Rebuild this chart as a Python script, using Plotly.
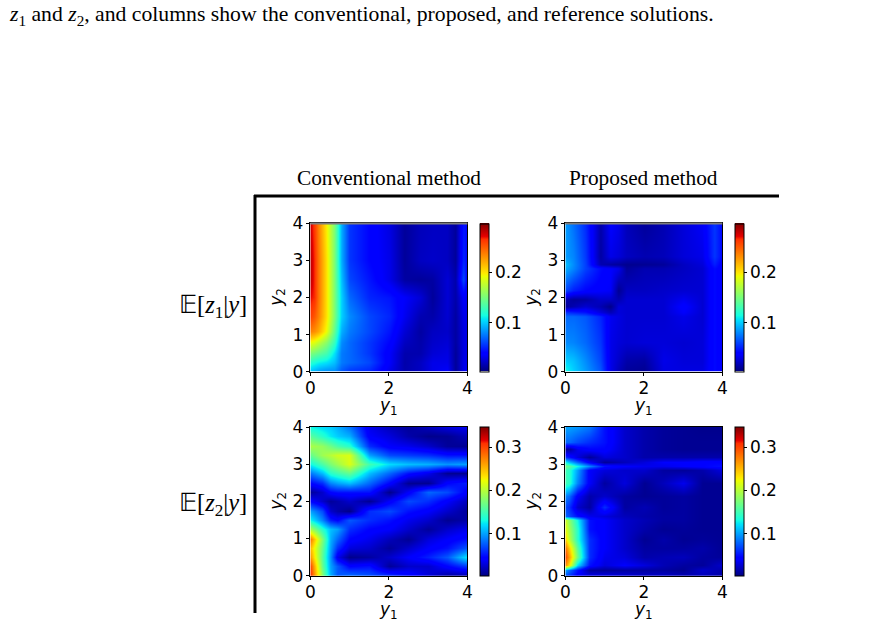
import plotly.graph_objects as go

W, H = 889, 625

# Horizontal and vertical nodes of each field, plus the values on them (rows run from y2 = 0 upward)
x_z1_conv = [0, .1, .2, .4, .6, .8, 1, 1.5, 2, 2.4, 2.8, 3.1, 3.5, 3.7, 3.9, 4]
y_z1_conv = [0, .25, .5, .8, 1.1, 1.5, 2, 2.5, 3, 4]
z1_conv = [
    [.095, .090, .085, .080, .080, .065, .055, .050, .030, .015, .020, .030, .035, .010, .030, .035],
    [.120, .115, .110, .105, .095, .075, .070, .060, .035, .014, .020, .030, .030, .010, .030, .030],
    [.150, .145, .140, .130, .105, .075, .070, .055, .035, .015, .015, .025, .028, .010, .028, .030],
    [.190, .185, .175, .155, .125, .080, .070, .055, .040, .020, .014, .022, .025, .012, .028, .030],
    [.235, .230, .220, .190, .140, .090, .075, .060, .045, .025, .012, .020, .022, .012, .028, .030],
    [.260, .250, .235, .200, .150, .100, .080, .060, .050, .032, .016, .014, .024, .012, .030, .030],
    [.270, .265, .240, .200, .150, .100, .070, .050, .045, .035, .025, .010, .025, .014, .035, .030],
    [.280, .265, .240, .200, .150, .095, .060, .045, .030, .012, .010, .012, .025, .014, .060, .035],
    [.280, .265, .240, .200, .150, .090, .055, .040, .030, .010, .020, .022, .020, .010, .050, .040],
    [.275, .260, .235, .195, .150, .090, .055, .040, .028, .010, .018, .020, .020, .010, .045, .040],
]

x_z1_prop = [0, .2, .5, .9, 1.15, 1.35, 1.55, 2, 2.5, 3, 3.5, 3.8, 4]
y_z1_prop = [0, .3, .8, 1.5, 1.6, 1.75, 1.95, 2.2, 2.8, 2.9, 3.1, 4]
z1_prop = [
    [.115, .100, .085, .065, .030, .018, .010, .008, .028, .028, .028, .042, .035],
    [.100, .095, .080, .060, .030, .022, .014, .012, .030, .026, .026, .042, .035],
    [.080, .078, .070, .055, .030, .026, .024, .026, .026, .024, .026, .042, .035],
    [.070, .070, .065, .050, .032, .028, .024, .024, .024, .030, .024, .042, .035],
    [.055, .050, .045, .028, .018, .026, .024, .024, .024, .035, .024, .042, .035],
    [.010, .016, .024, .016, .006, .026, .024, .024, .024, .038, .024, .042, .035],
    [.016, .010, .012, .022, .022, .016, .024, .024, .024, .032, .024, .042, .035],
    [.060, .048, .040, .036, .034, .008, .020, .020, .022, .024, .024, .042, .035],
    [.090, .078, .058, .042, .036, .030, .010, .016, .016, .020, .024, .042, .035],
    [.095, .080, .058, .016, .012, .010, .007, .008, .010, .020, .026, .048, .035],
    [.085, .078, .056, .012, .030, .026, .020, .016, .018, .026, .030, .055, .040],
    [.085, .072, .052, .014, .036, .030, .018, .010, .016, .026, .034, .055, .040],
]

x_z2_conv = [0, .3, .5, .7, 1, 1.5, 2, 2.5, 3, 3.5, 4]
y_z2_conv = [0, .25, .5, .75, 1, 1.25, 1.5, 1.75, 2, 2.25, 2.5, 2.75, 3, 3.25, 3.5, 3.75, 4]
z2_conv = [
    [.310, .180, .105, .075, .085, .075, .065, .050, .030, .010, .012],
    [.300, .165, .100, .075, .045, .050, .010, .025, .025, .045, .065],
    [.265, .160, .095, .035, .006, .012, .025, .040, .055, .075, .125],
    [.250, .165, .100, .060, .030, .025, .010, .025, .040, .050, .075],
    [.280, .175, .105, .080, .045, .035, .020, .008, .030, .040, .050],
    [.195, .140, .110, .100, .060, .045, .040, .025, .010, .025, .035],
    [.130, .090, .055, .045, .075, .060, .050, .035, .025, .008, .015],
    [.100, .070, .025, .015, .005, .060, .070, .050, .040, .025, .010],
    [.045, .025, .010, .015, .025, .008, .040, .070, .060, .040, .020],
    [.010, .025, .045, .050, .050, .050, .006, .040, .080, .070, .040],
    [.045, .060, .090, .100, .110, .080, .045, .008, .008, .045, .055],
    [.085, .110, .140, .150, .165, .110, .080, .050, .035, .008, .008],
    [.130, .155, .175, .190, .215, .150, .120, .110, .105, .095, .100],
    [.165, .190, .200, .210, .215, .100, .070, .065, .060, .050, .050],
    [.195, .185, .170, .155, .140, .060, .040, .035, .025, .010, .008],
    [.160, .140, .125, .115, .105, .040, .030, .015, .006, .008, .020],
    [.130, .120, .115, .105, .085, .035, .020, .010, .020, .030, .035],
]

x_z2_prop = [0, .1, .3, .6, 1, 1.5, 2, 2.5, 3, 3.5, 4]
y_z2_prop = [0, .15, .3, .5, .75, 1, 1.25, 1.5, 1.6, 1.85, 2.15, 2.5, 2.85, 2.95, 3.05, 3.2, 3.4, 3.6, 4]
z2_prop = [
    [.070, .060, .040, .035, .035, .030, .025, .025, .020, .020, .015],
    [.100, .080, .050, .012, .010, .012, .012, .012, .008, .025, .015],
    [.270, .230, .120, .050, .030, .040, .030, .018, .012, .010, .025],
    [.300, .260, .170, .060, .035, .030, .015, .018, .020, .012, .010],
    [.280, .240, .160, .060, .040, .025, .012, .012, .012, .015, .008],
    [.240, .200, .140, .060, .040, .025, .008, .015, .008, .010, .008],
    [.220, .190, .140, .050, .040, .025, .015, .008, .010, .008, .008],
    [.210, .180, .130, .050, .040, .025, .018, .012, .012, .008, .008],
    [.080, .070, .050, .035, .030, .020, .015, .012, .012, .008, .008],
    [.070, .060, .025, .012, .060, .012, .018, .010, .012, .008, .008],
    [.090, .080, .040, .015, .025, .012, .008, .010, .012, .008, .008],
    [.150, .140, .090, .040, .012, .030, .008, .020, .035, .008, .008],
    [.150, .140, .100, .040, .030, .025, .025, .012, .010, .015, .030],
    [.170, .160, .130, .090, .050, .040, .035, .035, .040, .045, .050],
    [.130, .110, .080, .040, .010, .020, .030, .040, .040, .045, .045],
    [.060, .050, .030, .010, .030, .025, .015, .015, .015, .015, .015],
    [.010, .012, .035, .045, .045, .025, .015, .010, .008, .008, .008],
    [.080, .080, .070, .060, .050, .025, .015, .010, .008, .008, .008],
    [.100, .100, .095, .085, .050, .025, .015, .010, .008, .006, .006],
]

row1_limits = [0.003, 0.297]
row2_limits = [0.002, 0.3475]
row1_ticks = [0.1, 0.2]
row2_ticks = [0.1, 0.2, 0.3]
axis_ticks = [0, 1, 2, 3, 4]
x_axis_ticks = [0, 2, 4]

column_titles = ["Conventional method", "Proposed method"]
row_titles = ["𝔼[<i>z</i><sub>1</sub>|<i>y</i>]", "𝔼[<i>z</i><sub>2</sub>|<i>y</i>]"]
x_title = "<i>y</i><sub>1</sub>"
y_title = "<i>y</i><sub>2</sub>"
caption = ("<i>z</i><sub>1</sub> and <i>z</i><sub>2</sub>, and columns show the "
           "conventional, proposed, and reference solutions.")

# The usual jet ramp, written out stop by stop
jet = [
    [0.0, "rgb(0,0,127)"], [0.11, "rgb(0,0,255)"], [0.125, "rgb(0,0,255)"],
    [0.34, "rgb(0,219,255)"], [0.35, "rgb(0,229,247)"], [0.375, "rgb(20,255,226)"],
    [0.64, "rgb(237,255,0)"], [0.66, "rgb(255,234,0)"], [0.89, "rgb(255,48,0)"],
    [0.91, "rgb(229,0,0)"], [1.0, "rgb(127,0,0)"],
]

TICK_FONT = dict(family="DejaVu Sans", size=17, color="black")


def px_x(v):
    return v / W


def px_y(v):
    return 1 - v / H


# Pixel boxes of the panels and their colour bars
panels = [
    ("x", "y", x_z1_conv, y_z1_conv, z1_conv, row1_limits, row1_ticks, (310.3, 467.4), (223.3, 371.7), 480.3),
    ("x2", "y2", x_z1_prop, y_z1_prop, z1_prop, row1_limits, row1_ticks, (565.3, 722.3), (223.3, 371.7), 735.0),
    ("x3", "y3", x_z2_conv, y_z2_conv, z2_conv, row2_limits, row2_ticks, (310.3, 467.4), (427.0, 575.7), 480.3),
    ("x4", "y4", x_z2_prop, y_z2_prop, z2_prop, row2_limits, row2_ticks, (565.3, 722.3), (427.0, 575.7), 735.0),
]

fig = go.Figure()
layout = dict(
    width=W, height=H, margin=dict(l=0, r=0, t=0, b=0, autoexpand=False),
    paper_bgcolor="white", plot_bgcolor="white", showlegend=False,
)

for xa, ya, xs, ys, zs, lim, cticks, bx, by, cb_left in panels:
    fig.add_trace(go.Heatmap(
        x=xs, y=ys, z=zs, xaxis=xa, yaxis=ya, zsmooth="best",
        zmin=lim[0], zmax=lim[1], colorscale=jet, hoverinfo="skip",
        colorbar=dict(
            x=px_x(cb_left), xanchor="left", xpad=0, ypad=0,
            y=px_y((by[0] + by[1]) / 2), yanchor="middle",
            lenmode="fraction", len=(by[1] - by[0]) / H,
            thicknessmode="pixels", thickness=8.5,
            outlinewidth=1, outlinecolor="black",
            tickmode="array", tickvals=cticks, ticktext=[f"{t:.1f}" for t in cticks],
            ticks="outside", ticklen=2.5, tickwidth=1, tickcolor="black",
            tickfont=TICK_FONT,
        ),
    ))
    xkey = "xaxis" + xa[1:]
    ykey = "yaxis" + ya[1:]
    layout[xkey] = dict(
        domain=[px_x(bx[0]), px_x(bx[1])], anchor=ya, range=[0, 4],
        tickmode="array", tickvals=x_axis_ticks, ticks="outside", ticklen=3.5,
        tickwidth=1, tickcolor="black", tickfont=TICK_FONT, showgrid=False,
        zeroline=False, showline=True, linecolor="black", linewidth=1, mirror=True,
        ticklabelstandoff=-3,
    )
    layout[ykey] = dict(
        domain=[px_y(by[1]), px_y(by[0])], anchor=xa, range=[0, 4],
        tickmode="array", tickvals=axis_ticks, ticks="outside", ticklen=3.5,
        tickwidth=1, tickcolor="black", tickfont=TICK_FONT, showgrid=False,
        zeroline=False, showline=True, linecolor="black", linewidth=1, mirror=True,
        ticklabelstandoff=-1,
    )

fig.update_layout(**layout)

# Table rules around the panels
rule = dict(color="black", width=3)
fig.add_shape(type="line", xref="paper", yref="paper",
              x0=px_x(254), x1=px_x(779), y0=px_y(196), y1=px_y(196), line=rule)
fig.add_shape(type="line", xref="paper", yref="paper",
              x0=px_x(255), x1=px_x(255), y0=px_y(195), y1=px_y(613), line=rule)

# The upper edge of the top row reads as a softer grey
for bx in (panels[0][7], panels[1][7]):
    fig.add_shape(type="line", xref="paper", yref="paper",
                  x0=px_x(bx[0]), x1=px_x(bx[1]), y0=px_y(223.5), y1=px_y(223.5),
                  line=dict(color="rgb(125,125,125)", width=2))


def label(text, cx, cy, size, family="Liberation Serif", anchor="center", angle=0):
    fig.add_annotation(
        text=text, xref="paper", yref="paper", x=px_x(cx), y=px_y(cy),
        xanchor=anchor, yanchor="middle", showarrow=False, textangle=angle,
        font=dict(family=family, size=size, color="black"),
    )


label(column_titles[0], 389, 178, 21.3)
label(column_titles[1], 643, 178, 21.3)
label(row_titles[0], 213, 306, 24.5)
label(row_titles[1], 213, 504, 24.5)
label(caption, 7, 15, 21.7, anchor="left")

# Axis titles, placed from each panel's own box
for _, _, _, _, _, _, _, bx, by, _ in panels:
    label(x_title, (bx[0] + bx[1]) / 2, by[1] + 35, 17, family="DejaVu Sans")
    label(y_title, bx[0] - 33, (by[0] + by[1]) / 2, 17, family="DejaVu Sans", angle=-90)

fig.write_html("out.html")
